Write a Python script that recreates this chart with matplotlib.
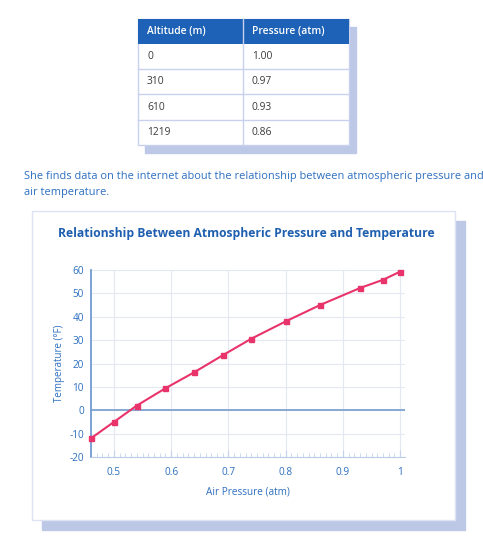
import matplotlib
matplotlib.use("Agg")
import matplotlib.pyplot as plt
from matplotlib.patches import Rectangle
from matplotlib.ticker import MultipleLocator

plt.rcParams['font.family'] = ['Open Sans', 'DejaVu Sans']
plt.rcParams['axes.unicode_minus'] = False

# Table data
table_headers = ["Altitude (m)", "Pressure (atm)"]
altitudes = ["0", "310", "610", "1219"]
pressures_tbl = ["1.00", "0.97", "0.93", "0.86"]

# Chart data
pressure = [0.46, 0.50, 0.54, 0.59, 0.64, 0.69, 0.74, 0.80, 0.86, 0.93, 0.97, 1.00]
temperature = [-12, -5, 2, 9.4, 16.2, 23.5, 30.6, 38, 45, 52.3, 55.8, 59.3]

paragraph = ["She finds data on the internet about the relationship between atmospheric pressure and",
             "air temperature."]
chart_title = "Relationship Between Atmospheric Pressure and Temperature"

W, H = 483, 543
fig = plt.figure(figsize=(W / 100, H / 100), dpi=100)
bg = fig.add_axes([0, 0, 1, 1])
bg.set_xlim(0, W)
bg.set_ylim(H, 0)
bg.axis('off')

shadow = '#bcc8e6'
blue = '#1f5fb0'
txtblue = '#2d6fc0'
border = '#c8d2ee'

# ---- table ----
tl, tr, tt, hb = 138, 349, 19, 44
row_h = 25.2
col_x = 243
nrows = len(altitudes)
tb = hb + row_h * nrows
bg.add_patch(Rectangle((tl + 7, tt + 8), tr - tl, tb - tt, color=shadow, zorder=1))
bg.add_patch(Rectangle((tl, tt), tr - tl, tb - tt, facecolor='white', edgecolor=border, lw=1, zorder=2))
bg.add_patch(Rectangle((tl, tt), tr - tl, hb - tt, facecolor='#1d62b6', edgecolor='none', zorder=3))
bg.plot([col_x, col_x], [tt, tb], color=border, lw=1, zorder=4)
for i in range(1, nrows):
    y = hb + row_h * i
    bg.plot([tl, tr], [y, y], color=border, lw=1, zorder=4)
bg.text(tl + 9, (tt + hb) / 2, table_headers[0], color='white', fontsize=7.4, fontweight='semibold',
        va='center', ha='left', zorder=5)
bg.text(col_x + 9, (tt + hb) / 2, table_headers[1], color='white', fontsize=7.4, fontweight='semibold',
        va='center', ha='left', zorder=5)
for i, (a, p) in enumerate(zip(altitudes, pressures_tbl)):
    yc = hb + row_h * i + row_h / 2
    bg.text(tl + 9, yc, a, color='#3a3a3a', fontsize=7.4, va='center', ha='left', zorder=5)
    bg.text(col_x + 9, yc, p, color='#3a3a3a', fontsize=7.4, va='center', ha='left', zorder=5)

# ---- paragraph ----
bg.text(24, 177, paragraph[0], color=txtblue, fontsize=7.95, va='center', ha='left')
bg.text(24, 192, paragraph[1], color=txtblue, fontsize=7.95, va='center', ha='left')

# ---- chart box ----
cl, cr, ct, cb = 32, 455, 211, 520
bg.add_patch(Rectangle((cl + 10, ct + 10), cr - cl, cb - ct, color=shadow, zorder=1))
bg.add_patch(Rectangle((cl, ct), cr - cl, cb - ct, facecolor='white', edgecolor='#dde3f3', lw=1, zorder=2))
bg.text(246, 233, chart_title, color=blue, fontsize=8.75, fontweight='bold', ha='center', va='center', zorder=3)

# ---- plot ----
pl, pr, pt, pb = 91, 405, 270, 457
ax = fig.add_axes([pl / W, (H - pb) / H, (pr - pl) / W, (pb - pt) / H])
ax.set_zorder(5)
ax.patch.set_alpha(0)
ax.set_xlim(0.46, 0.46 + (pr - pl) / 572.5)
ax.set_ylim(-20, 60)
ax.set_xticks([0.5, 0.6, 0.7, 0.8, 0.9, 1.0])
ax.set_xticklabels(['0.5', '0.6', '0.7', '0.8', '0.9', '1'])
ax.set_yticks(range(-20, 61, 10))
ax.xaxis.set_minor_locator(MultipleLocator(0.01))
ax.grid(True, which='major', color='#e3e8f3', lw=0.8)
ax.axhline(0, color='#7ea3cf', lw=1.3, zorder=2)
for s in ['top', 'right']:
    ax.spines[s].set_visible(False)
ax.spines['left'].set_color('#6f9bd0')
ax.spines['left'].set_linewidth(1.3)
ax.spines['bottom'].set_color('#b9cbe6')
ax.spines['bottom'].set_linewidth(0.8)
ax.tick_params(axis='x', which='both', direction='in', colors='#c5d3ea', labelcolor=txtblue,
               labelsize=7.2, pad=7)
ax.tick_params(axis='x', which='major', length=5, width=0.8)
ax.tick_params(axis='x', which='minor', length=3, width=0.6)
ax.tick_params(axis='y', length=0, labelcolor=txtblue, labelsize=7.2, pad=5)
ax.plot(pressure, temperature, color='#e8336b', lw=1.5, marker='s', markersize=3.6, zorder=4, clip_on=False)
ax.set_xlabel('Air Pressure (atm)', color=txtblue, fontsize=7.2, labelpad=6)
ax.set_ylabel('Temperature (°F)', color=txtblue, fontsize=7, labelpad=3)

fig.savefig('out.png', dpi=100)
